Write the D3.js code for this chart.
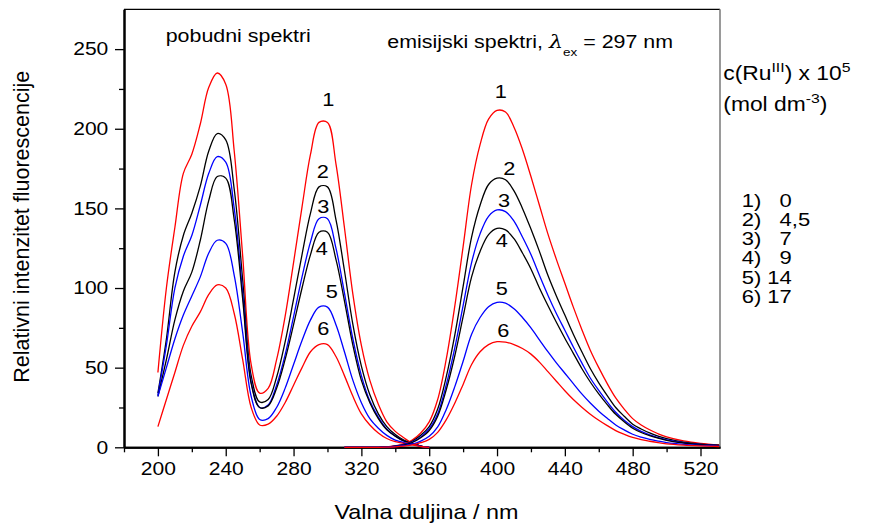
<!DOCTYPE html>
<html><head><meta charset="utf-8">
<script src="https://cdn.jsdelivr.net/npm/d3@7"></script>
<style>
body{margin:0;background:#fff}
svg{display:block}
text{font-family:"Liberation Sans",Arial,sans-serif;fill:#000}
</style>
</head><body>
<svg id="chart" width="870" height="532"></svg>
<script>
// ---------------- data ----------------
const excWavelengths = [200,205,210,215,220,225,230,235,240,245,250,255,260,265,270,275,280,285,290,295,300,305,310,315,320,325,330,335,340,345,350,355,360];
const exc1 = [47,100,138,172,184,203,226,235,228,186,120,52,34,37,55,82,116,151,184,204,204,178,138,96,64,42,27,16,10,6,2.5,0.8,0];
const exc2 = [34,68,110,133,147,164,186,197,193,162,105,45,28.5,30,44,66,93,121,147,163.5,163.5,143,111,77,51,33,21,13,8,4.5,2.5,0.8,0];
const exc3 = [33,64,100,120,133,152,172,182.5,179,150,97,41,25,26.5,39,58,82,107,129,143.5,143.5,125,97,68,45,29,19,11.5,7,4,2.5,0.8,0];
const exc4 = [32,55,80,98,110,130,155,170,169,143,93,40,25,26,37,55,77,100,121,135,135,118,92,64,42,28,18,11,7,4,2.5,0.8,0];
const exc5 = [32,50,68,83,95,107,122,130,128,108,72,32,17.5,18,25,37,52,67,80,88,88,77,60,42,28,18,12,7.5,4.5,3,2,0.6,0];
const exc6 = [13,30,47,64,76,85,96,102,100,84,55,25,14,14.5,19.5,28,39,50,60,64.5,64.5,57,45,32,21,14,9,5.5,3.5,2.5,1.5,0.5,0];

const emWavelengths = [310,320,330,335,340,345,350,355,360,365,370,375,380,385,390,395,400,405,410,415,420,425,430,435,440,445,450,455,460,465,470,475,480,485,490,495,500,510,520,531];
const em1 = [0,0,0,0.3,1,2,4.5,9,16,30,55,88,126,165,190,206,211.5,210.5,201,187,170,152,134,118,103,88,74,61,50,40,31,24,18,14,11,8.5,6.5,4,2.5,1.5];
const em2 = [0,0,0,0.2,0.8,1.8,3.8,7.5,13,24,44,70,101,132,152,165,169,168,161,150,137,123,108,95,83,71,60,49.5,40.5,32.5,25,19.5,14.5,11.5,9,7,5.5,3.3,2,1.3];
const em3 = [0,0,0,0.2,0.7,1.6,3.3,6.5,11.5,21,39,62,89,116,134,145,149,148,142,132,121,108,95.5,84,73.5,63,53,43.5,35.7,28.5,22,17,13,10,7.8,6,4.7,2.9,1.8,1.1];
const em4 = [0,0,0,0.2,0.6,1.4,3,6,10.5,19.5,36,57,82,107,123,133.5,137.4,136.5,131,122,112,100,89,78.5,68.5,59,49.5,41,33.5,26.8,20.7,16,12,9.3,7.3,5.7,4.4,2.7,1.7,1];
const em5 = [0,0,0,0.1,0.4,1,2,3.9,6.9,12.8,23.6,37.8,54,71,81.5,88.3,91,90.5,87,81.5,75,67.5,60,53,46.5,40,33.5,27.8,22.7,18.2,14,10.9,8.2,6.4,5,3.9,3,1.9,1.2,0.7];
const em6 = [0,0,0,0.1,0.3,0.7,1.5,2.9,5,9.4,17.2,27.5,39.5,52,60,64.5,66.3,66,64.5,62,58.5,53.5,47.5,41.5,35.5,30,25.2,20.8,17,13.6,10.5,8.2,6.2,4.8,3.8,2.9,2.2,1.4,0.9,0.5];

const curveNames = ["1","2","3","4","5","6"];
const concentrations = ["0","4,5","7","9","14","17"];
const xMajorTicks = [200,240,280,320,360,400,440,480,520];
const xMinorTicks = [180,220,260,300,340,380,420,460,500];
const yMajorTicks = [0,50,100,150,200,250];
const yMinorTicks = [25,75,125,175,225];

// label anchor points (data units)
const excLabelX = [300.5,297.2,297.5,296.6,302.5,297.5];
const excLabelY = [218.5,173.0,151.1,124.9,97.7,74.7];
const emLabelX = [402.2,407.2,404.1,402.8,402.8,403.7];
const emLabelY = [223.3,175.2,155.3,130.2,99.8,73.6];

// ---------------- layout ----------------
const colors = ["#ff0000","#000000","#0000ff","#000000","#0000ff","#ff0000"];
const SX = 1.17;
const P = {left:124, right:720, top:9.3, bottom:447.3};
const svg = d3.select("#chart");
const x = d3.scaleLinear().domain([180,531.5]).range([P.left,P.right]);
const y = d3.scaleLinear().domain([0,275]).range([P.bottom,P.top]);

function stext(px, py, size, anchor){
  return svg.append("text")
    .attr("transform",`translate(${px},${py}) scale(${SX},1)`)
    .attr("font-size",size)
    .attr("text-anchor",anchor||"start");
}

// frame
svg.append("line").attr("x1",P.left).attr("x2",P.right).attr("y1",P.top).attr("y2",P.top)
  .attr("stroke","#000").attr("stroke-width",1.2);
svg.append("line").attr("x1",P.right).attr("x2",P.right).attr("y1",P.top).attr("y2",P.bottom)
  .attr("stroke","#808080").attr("stroke-width",1.6);

// x axis
const gx = svg.append("g").attr("transform",`translate(0,${P.bottom})`);
gx.call(d3.axisBottom(x).tickValues(xMinorTicks).tickSize(5).tickSizeOuter(0).tickFormat(""));
const gx2 = svg.append("g").attr("transform",`translate(0,${P.bottom})`);
gx2.call(d3.axisBottom(x).tickValues(xMajorTicks).tickSize(9).tickSizeOuter(0).tickPadding(6).tickFormat(d3.format("d")));
[gx,gx2].forEach(g=>{
  g.selectAll(".tick line").attr("stroke","#000").attr("stroke-width",1.3);
  g.select(".domain").attr("stroke","#000").attr("stroke-width",2);
});
gx2.selectAll(".tick text").attr("font-size",18).attr("font-family","Liberation Sans, Arial, sans-serif")
  .attr("fill","#000").attr("transform",`scale(${SX},1)`);

// y axis
const gy = svg.append("g").attr("transform",`translate(${P.left},0)`);
gy.call(d3.axisLeft(y).tickValues(yMinorTicks).tickSize(5).tickSizeOuter(0).tickFormat(""));
const gy2 = svg.append("g").attr("transform",`translate(${P.left},0)`);
gy2.call(d3.axisLeft(y).tickValues(yMajorTicks).tickSize(9).tickSizeOuter(0).tickPadding(4.4).tickFormat(d3.format("d")));
[gy,gy2].forEach(g=>{
  g.selectAll(".tick line").attr("stroke","#000").attr("stroke-width",1.3);
  g.select(".domain").attr("stroke","#000").attr("stroke-width",2);
});
gy2.selectAll(".tick text").attr("font-size",18).attr("font-family","Liberation Sans, Arial, sans-serif")
  .attr("fill","#000").attr("transform",`scale(${SX},1)`);

// axis titles
stext(426.5, 519, 20, "middle").text("Valna duljina / nm");
svg.append("text").attr("transform","translate(29,226.7) rotate(-90)")
  .attr("font-size",21.5).attr("text-anchor","middle").text("Relativni intenzitet fluorescencije");

// curves
const line = d3.line().x(d=>x(d[0])).y(d=>y(d[1])).curve(d3.curveCatmullRom.alpha(0.5));
const excSeries = [exc1,exc2,exc3,exc4,exc5,exc6];
const emSeries = [em1,em2,em3,em4,em5,em6];
const gc = svg.append("g").attr("fill","none").attr("stroke-width",1.3);
excSeries.forEach((s,i)=>{
  gc.append("path").attr("d",line(excWavelengths.map((w,j)=>[w,s[j]]))).attr("stroke",colors[i]);
});
emSeries.forEach((s,i)=>{
  gc.append("path").attr("d",line(emWavelengths.map((w,j)=>[w,s[j]]))).attr("stroke",colors[i]);
});

// curve number labels
curveNames.forEach((n,i)=>{
  stext(x(excLabelX[i]), y(excLabelY[i]), 18.6, "middle").attr("dy","0.36em").text(n);
  stext(x(emLabelX[i]), y(emLabelY[i]), 18.6, "middle").attr("dy","0.36em").text(n);
});

// annotations
stext(165.7, 41.5, 18.3).text("pobudni spektri");
const et = stext(387.3, 48.3, 18.3);
et.append("tspan").text("emisijski spektri, ");
et.append("tspan").attr("font-family","DejaVu Serif, serif").attr("font-style","italic").attr("font-size",19).text("λ");
et.append("tspan").attr("font-size",11.5).attr("dy",8).text("ex");
et.append("tspan").attr("dy",-8).text(" = 297 nm");

// legend
const l1 = stext(723.3, 80, 19.5);
l1.append("tspan").text("c(Ru");
l1.append("tspan").attr("font-size",13.5).attr("dy",-8.5).text("III");
l1.append("tspan").attr("dy",8.5).text(") x 10");
l1.append("tspan").attr("font-size",13.5).attr("dy",-8.5).text("5");
const l2 = stext(723.3, 111, 19.5);
l2.append("tspan").text("(mol dm");
l2.append("tspan").attr("font-size",13.5).attr("dy",-8.5).text("-3");
l2.append("tspan").attr("dy",8.5).text(")");
concentrations.forEach((c,i)=>{
  const pad = c.length===2 ? " " : "   ";
  stext(741.7, 206.5 + i*19.3, 18.8).attr("xml:space","preserve").style("white-space","pre")
    .text(curveNames[i] + ")" + pad + c);
});
</script>
</body></html>
